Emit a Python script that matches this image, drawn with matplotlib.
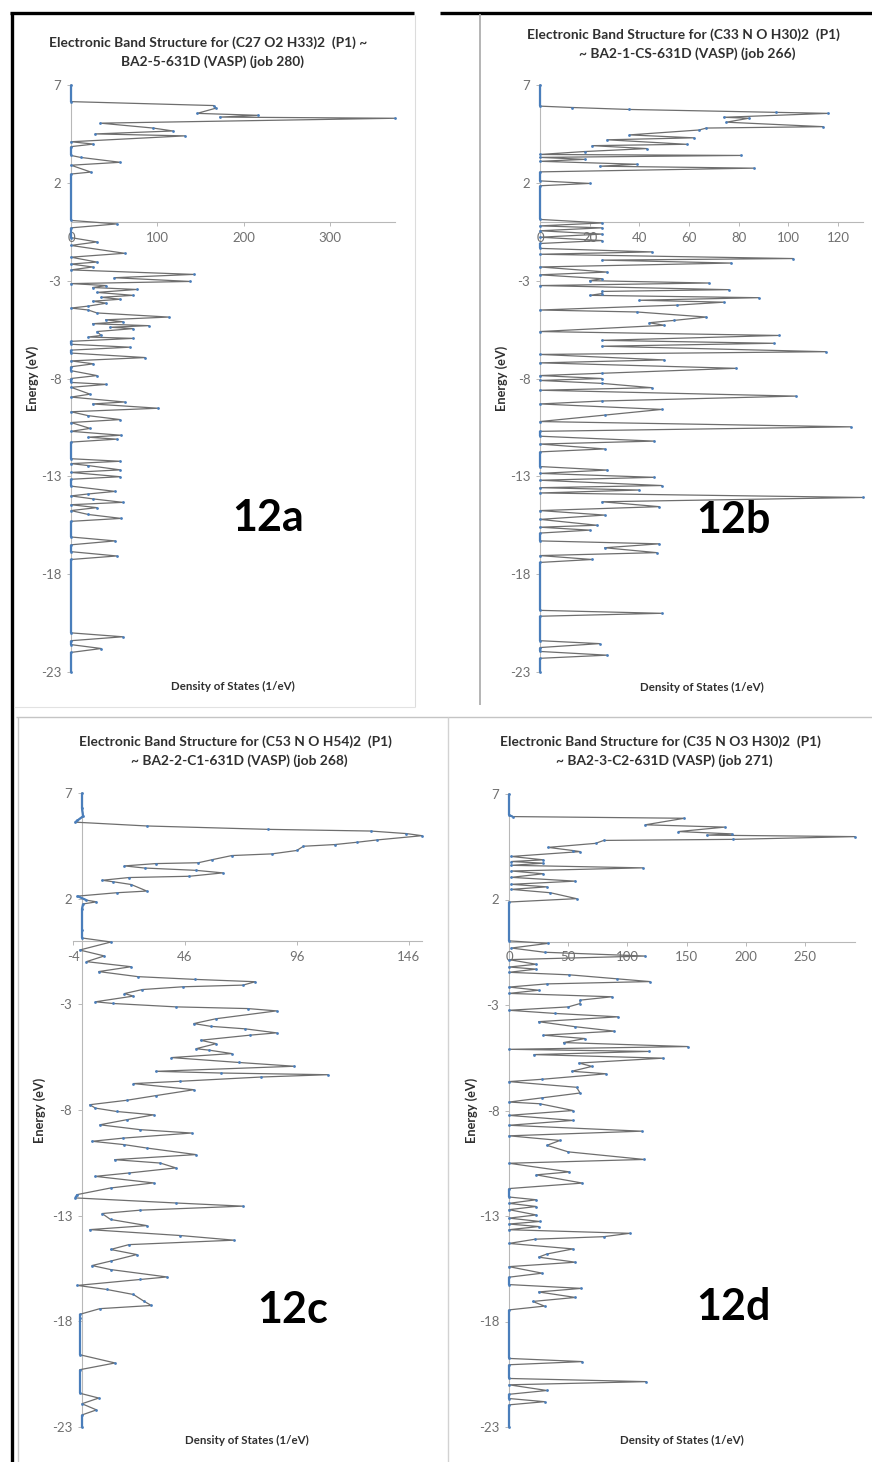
import matplotlib
matplotlib.use("Agg")
import matplotlib.pyplot as plt
from matplotlib.lines import Line2D
import numpy as np

plt.rcParams['axes.unicode_minus'] = False
plt.rcParams['font.family'] = ['Lato', 'DejaVu Sans']

W, H = 872, 1462

# (energy eV, density of states 1/eV) pairs, listed from the top of the energy window down
spectrum_a = [
    (7.0, 0), (6.15, 0), (5.95, 165), (5.82, 168), (5.55, 146), (5.45, 217), (5.36, 172),
    (5.3, 375), (5.05, 34), (4.8, 95), (4.65, 118), (4.5, 28), (4.4, 132), (4.1, 0),
    (3.98, 26), (3.85, 0), (3.4, 0), (3.3, 11), (3.05, 57), (2.9, 0), (2.55, 23), (2.45, 0),
    (0.08, 0), (-0.1, 53), (-0.3, 0), (-0.8, 0), (-1.02, 30), (-1.2, 0), (-1.6, 62), (-1.8, 0),
    (-2.05, 30), (-2.15, 0), (-2.3, 25), (-2.45, 0), (-2.68, 142), (-2.85, 50), (-3.04, 138),
    (-3.15, 0), (-3.25, 41), (-3.35, 25), (-3.45, 76), (-3.6, 30), (-3.75, 72), (-3.85, 35),
    (-3.95, 57), (-4.05, 25), (-4.15, 41), (-4.3, 20), (-4.4, 0), (-4.5, 20), (-4.65, 30),
    (-4.86, 113), (-5.0, 40), (-5.1, 60), (-5.2, 25), (-5.3, 90), (-5.38, 45), (-5.45, 72),
    (-5.6, 30), (-5.8, 35), (-5.88, 20), (-5.95, 72), (-6.1, 0), (-6.25, 0), (-6.4, 68),
    (-6.55, 0), (-6.7, 0), (-6.93, 86), (-7.1, 0), (-7.25, 26), (-7.4, 0), (-7.6, 0),
    (-7.85, 30), (-8.0, 0), (-8.2, 0), (-8.3, 41), (-8.45, 0), (-8.8, 22), (-8.95, 0),
    (-9.2, 62), (-9.3, 25), (-9.52, 101), (-9.7, 0), (-9.9, 20), (-10.1, 57), (-10.25, 0),
    (-10.55, 22), (-10.7, 0), (-10.9, 58), (-11.0, 20), (-11.1, 53), (-11.25, 0), (-12.1, 0),
    (-12.23, 57), (-12.35, 0), (-12.45, 20), (-12.67, 57), (-12.8, 0), (-13.02, 57),
    (-13.15, 0), (-13.5, 0), (-13.77, 51), (-13.9, 20), (-14.0, 0), (-14.15, 25), (-14.33, 60),
    (-14.45, 0), (-14.6, 30), (-14.75, 0), (-14.95, 20), (-15.15, 58), (-15.3, 0), (-16.1, 0),
    (-16.3, 51), (-16.5, 0), (-16.85, 0), (-17.07, 53), (-17.25, 0), (-21.0, 0), (-21.2, 60),
    (-21.4, 0), (-21.6, 0), (-21.8, 35), (-22.0, 0), (-23.0, 0),
]

spectrum_b = [
    (7.0, 0), (5.92, 0), (5.85, 13), (5.75, 36), (5.6, 95), (5.55, 116), (5.35, 74), (5.3, 84),
    (5.1, 75), (4.87, 114), (4.8, 67), (4.7, 64), (4.45, 36), (4.3, 62), (4.2, 27), (3.97, 59),
    (3.9, 21), (3.75, 43), (3.6, 18), (3.45, 0), (3.4, 81), (3.3, 0), (3.2, 18), (3.1, 0),
    (2.95, 39), (2.85, 24), (2.75, 86), (2.56, 0), (2.1, 0), (1.97, 20), (1.85, 0), (0.13, 0),
    (-0.05, 25), (-0.2, 0), (-0.3, 25), (-0.45, 0), (-0.62, 25), (-0.78, 0), (-0.95, 25),
    (-1.1, 0), (-1.35, 0), (-1.53, 45), (-1.65, 0), (-1.87, 102), (-1.95, 25), (-2.1, 77),
    (-2.3, 0), (-2.56, 27), (-2.7, 0), (-2.9, 25), (-3.0, 20), (-3.12, 68), (-3.25, 0),
    (-3.46, 76), (-3.55, 25), (-3.66, 25), (-3.75, 20), (-3.87, 88), (-4.0, 40), (-4.1, 74),
    (-4.25, 55), (-4.5, 0), (-4.6, 39), (-4.86, 67), (-5.03, 54), (-5.15, 44), (-5.28, 50),
    (-5.6, 0), (-5.8, 96), (-6.05, 25), (-6.2, 94), (-6.35, 25), (-6.63, 115), (-6.77, 0),
    (-7.05, 50), (-7.2, 0), (-7.48, 79), (-7.73, 25), (-7.85, 0), (-8.0, 25), (-8.1, 0),
    (-8.25, 25), (-8.47, 45), (-8.6, 0), (-8.9, 103), (-9.15, 25), (-9.3, 0), (-9.58, 49),
    (-9.87, 26), (-10.2, 0), (-10.47, 125), (-10.7, 0), (-10.95, 0), (-11.2, 46), (-11.35, 0),
    (-11.6, 26), (-11.75, 0), (-12.5, 0), (-12.68, 27), (-12.85, 0), (-13.05, 46), (-13.2, 0),
    (-13.47, 49), (-13.58, 0), (-13.7, 40), (-13.85, 0), (-14.08, 130), (-14.3, 25),
    (-14.55, 48), (-14.75, 0), (-14.98, 26), (-15.2, 0), (-15.5, 23), (-15.6, 0), (-15.75, 20),
    (-15.9, 0), (-16.3, 0), (-16.45, 48), (-16.65, 26), (-16.9, 47), (-17.05, 0), (-17.25, 21),
    (-17.4, 0), (-19.85, 0), (-20.0, 49), (-20.15, 0), (-21.4, 0), (-21.55, 24), (-21.75, 0),
    (-21.95, 0), (-22.14, 27), (-22.3, 0), (-23.0, 0),
]

spectrum_c = [
    (7.0, 0), (6.3, 0), (5.9, 0.5), (5.7, -2), (5.62, -3), (5.44, 29), (5.28, 83), (5.2, 129),
    (5.08, 145), (4.98, 152), (4.78, 132), (4.67, 123), (4.56, 113), (4.48, 99), (4.28, 96),
    (4.12, 85), (4.04, 67), (3.84, 58), (3.7, 52), (3.66, 33), (3.55, 19), (3.45, 28),
    (3.34, 51), (3.22, 63), (3.06, 48), (3.0, 21), (2.87, 9), (2.8, 14), (2.67, 22), (2.36, 29),
    (2.28, 15.5), (2.12, -2), (1.93, 2), (1.85, 6.5), (1.75, 0.5), (1.5, 0), (0.5, 0),
    (0.14, 0), (-0.05, 13), (-0.43, -1), (-0.71, 10), (-0.98, 2), (-1.22, 22), (-1.45, 7.5),
    (-1.69, 25), (-1.82, 50.6), (-1.93, 77.5), (-2.09, 72), (-2.17, 45), (-2.3, 27),
    (-2.49, 19), (-2.61, 23), (-2.88, 6), (-2.96, 14), (-3.12, 42), (-3.2, 74), (-3.31, 87),
    (-3.68, 60), (-3.91, 50), (-4.04, 57.5), (-4.16, 73), (-4.35, 87), (-4.46, 75), (-4.7, 53),
    (-4.86, 60), (-5.1, 51), (-5.17, 57), (-5.33, 67), (-5.52, 40), (-5.75, 70), (-5.93, 95),
    (-6.17, 33), (-6.25, 62), (-6.33, 110), (-6.44, 80), (-6.64, 44), (-6.75, 23), (-7.04, 50),
    (-7.32, 33), (-7.54, 20), (-7.75, 3.5), (-7.91, 6), (-8.07, 15.5), (-8.23, 32), (-8.46, 20),
    (-8.7, 8), (-8.93, 26), (-9.09, 49), (-9.33, 18.5), (-9.48, 4.5), (-9.64, 19), (-9.8, 29),
    (-10.11, 51), (-10.35, 14.6), (-10.51, 35), (-10.74, 42), (-10.98, 21), (-11.14, 6),
    (-11.45, 32), (-11.69, 12.8), (-12.0, -2), (-12.16, -3), (-12.4, 42), (-12.55, 72),
    (-12.74, 26), (-12.9, 9), (-13.18, 12.8), (-13.47, 29), (-13.66, 3.5), (-13.94, 44),
    (-14.16, 68), (-14.37, 21), (-14.6, 12.8), (-14.84, 24.5), (-15.15, 12.8), (-15.36, 4.5),
    (-15.55, 12.8), (-15.9, 38), (-16.02, 26), (-16.3, -2), (-16.49, 11), (-16.73, 23),
    (-17.04, 27.6), (-17.25, 31), (-17.4, 8), (-17.67, -1), (-17.83, -1), (-19.58, -1),
    (-19.97, 14.8), (-20.29, -1), (-21.4, -1), (-21.63, 7.5), (-21.9, 0), (-22.19, 6.5),
    (-22.43, 0), (-23.0, 0),
]

spectrum_d = [
    (7.0, 0), (6.0, 0), (5.93, 3), (5.85, 148), (5.54, 115), (5.43, 182), (5.22, 143),
    (5.11, 188), (5.05, 167), (4.98, 292), (4.85, 189), (4.8, 80), (4.66, 73), (4.47, 33),
    (4.32, 54), (4.27, 60), (4.04, 2), (3.88, 29), (3.8, 2), (3.72, 29), (3.62, 2), (3.5, 113),
    (3.35, 2), (3.22, 29), (3.05, 2), (2.87, 56), (2.72, 2), (2.6, 32), (2.48, 2), (2.32, 35),
    (2.04, 57), (1.88, 0), (0.04, 0), (-0.08, 33), (-0.3, 2), (-0.5, 30), (-0.68, 115),
    (-0.85, 0), (-1.07, 23), (-1.2, 0), (-1.3, 23), (-1.45, 0), (-1.57, 51), (-1.76, 91),
    (-1.89, 119), (-2.0, 32), (-2.15, 0), (-2.3, 25), (-2.45, 0), (-2.61, 87), (-2.77, 60),
    (-2.93, 60), (-3.09, 50), (-3.25, 0), (-3.4, 39), (-3.56, 92), (-3.79, 25), (-4.03, 56),
    (-4.24, 89), (-4.43, 29), (-4.59, 64), (-4.78, 46), (-4.97, 151), (-5.1, 0), (-5.2, 118),
    (-5.35, 21), (-5.52, 130), (-5.75, 59), (-5.91, 70), (-6.14, 53), (-6.26, 82), (-6.52, 28),
    (-6.63, 0), (-6.9, 57), (-7.17, 60), (-7.4, 28), (-7.6, 0), (-7.68, 26), (-8.0, 54),
    (-8.23, 0), (-8.47, 54), (-8.7, 0), (-8.98, 112), (-9.2, 0), (-9.42, 43), (-9.65, 32),
    (-9.96, 50), (-10.32, 114), (-10.5, 0), (-10.91, 51), (-11.05, 23), (-11.44, 62),
    (-11.7, 0), (-12.1, 0), (-12.23, 23), (-12.4, 0), (-12.55, 23), (-12.7, 0), (-12.95, 23),
    (-13.1, 0), (-13.26, 26), (-13.38, 0), (-13.5, 25), (-13.65, 0), (-13.82, 102),
    (-13.98, 80), (-14.1, 22), (-14.3, 0), (-14.56, 54), (-14.8, 32), (-14.95, 25),
    (-15.19, 56), (-15.4, 0), (-15.71, 28), (-15.9, 0), (-16.25, 0), (-16.43, 61), (-16.6, 25),
    (-16.86, 56), (-17.05, 20), (-17.27, 30), (-17.45, 0), (-19.75, 0), (-19.9, 62),
    (-20.05, 0), (-20.7, 0), (-20.85, 116), (-21.0, 0), (-21.27, 32), (-21.45, 0), (-21.65, 0),
    (-21.8, 30), (-21.95, 0), (-23.0, 0),
]

energy_ticks = [7, 2, -3, -8, -13, -18, -23]
dos_ticks_a = [0, 100, 200, 300]
dos_ticks_b = [0, 20, 40, 60, 80, 100, 120]
dos_ticks_c = [-4, 46, 96, 146]
dos_ticks_d = [0, 50, 100, 150, 200, 250]

titles = [
    ("Electronic Band Structure for (C27 O2 H33)2  (P1) ~", "BA2-5-631D (VASP) (job 280)"),
    ("Electronic Band Structure for (C33 N O H30)2  (P1)", "~ BA2-1-CS-631D (VASP) (job 266)"),
    ("Electronic Band Structure for (C53 N O H54)2  (P1)", "~ BA2-2-C1-631D (VASP) (job 268)"),
    ("Electronic Band Structure for (C35 N O3 H30)2  (P1)", "~ BA2-3-C2-631D (VASP) (job 271)"),
]
tags = ["12a", "12b", "12c", "12d"]

LINE = "#6e6e6e"
MARK = "#4a7ebb"
AXIS = "#b8b8b8"
TICKTXT = "#707070"
TEXT = "#303030"

fig = plt.figure(figsize=(W / 100, H / 100), dpi=100)
fig.patch.set_facecolor("white")


def fx(px):
    return px / W


def fy(py):
    return 1 - py / H


def fig_line(x0, y0, x1, y1, color, lw):
    fig.add_artist(Line2D([fx(x0), fx(x1)], [fy(y0), fy(y1)], transform=fig.transFigure,
                          color=color, lw=lw, solid_capstyle="butt"))


def draw_panel(box, spectrum, xlim, xticks, title, title_pos, ylab_pos, xlab_pos, tag, tag_pos):
    x0, y0, x1, y1 = box
    ax = fig.add_axes([fx(x0), fy(y1), (x1 - x0) / W, (y1 - y0) / H])
    e = np.array([p[0] for p in spectrum])
    d = np.array([p[1] for p in spectrum])
    ax.set_xlim(*xlim)
    ax.set_ylim(-23, 7)
    # states near zero sit on the axis as a dense run of markers
    flat = np.abs(d) < 3.5
    for i in range(len(d) - 1):
        if flat[i] and flat[i + 1]:
            ax.plot(d[i:i + 2], e[i:i + 2], color=MARK, lw=1.6, zorder=3,
                    solid_capstyle="butt", clip_on=False)
    ax.plot(d, e, color=LINE, lw=0.9, zorder=2, clip_on=False)
    ax.plot(d, e, ls="none", marker="o", ms=2.0, mfc=MARK, mec="none", zorder=4, clip_on=False)

    for s in ("top", "right"):
        ax.spines[s].set_visible(False)
    ax.spines["bottom"].set_position(("data", 0))
    ax.spines["left"].set_position(("data", 0))
    for s in ("bottom", "left"):
        ax.spines[s].set_color(AXIS)
        ax.spines[s].set_linewidth(0.8)
        ax.spines[s].set_zorder(1)
    ax.set_yticks(energy_ticks)
    ax.set_yticklabels([str(t) for t in energy_ticks])
    ax.set_xticks(xticks)
    ax.set_xticklabels([str(t) for t in xticks])
    ax.tick_params(axis="both", direction="out", length=3, width=0.7, color=AXIS,
                   labelsize=9.5, labelcolor=TICKTXT)
    ax.tick_params(axis="x", pad=4)
    ax.tick_params(axis="y", pad=4)
    ax.patch.set_alpha(0)

    tx, ty = title_pos
    fig.text(fx(tx), fy(ty), title[0], ha="center", va="center", fontsize=9.9,
             fontweight="bold", color=TEXT)
    fig.text(fx(tx + 4), fy(ty + 19), title[1], ha="center", va="center", fontsize=9.9,
             fontweight="bold", color=TEXT)
    fig.text(fx(ylab_pos[0]), fy(ylab_pos[1]), "Energy (eV)", rotation=90, ha="center",
             va="center", fontsize=9.2, fontweight="bold", color=TEXT)
    fig.text(fx(xlab_pos[0]), fy(xlab_pos[1]), "Density of States (1/eV)", ha="center",
             va="center", fontsize=8.3, fontweight="bold", color=TEXT)
    fig.text(fx(tag_pos[0]), fy(tag_pos[1]), tag, ha="center", va="center", fontsize=31,
             fontweight="bold", color="black")
    return ax


draw_panel((71, 85, 395, 672), spectrum_a, (0, 375), dos_ticks_a, titles[0], (208, 43),
           (33, 378), (233, 686), tags[0], (268, 518))
draw_panel((540, 85, 863, 672), spectrum_b, (0, 130), dos_ticks_b, titles[1], (683, 35),
           (502, 378), (702, 687), tags[1], (733, 520))
draw_panel((73, 793, 422, 1427), spectrum_c, (-4, 152), dos_ticks_c, titles[2], (235, 742),
           (40, 1110), (247, 1440), tags[2], (293, 1310))
draw_panel((509, 794, 855, 1427), spectrum_d, (0, 292), dos_ticks_d, titles[3], (660, 742),
           (472, 1110), (682, 1440), tags[3], (733, 1307))

# frame lines of the four chart boxes
fig_line(11.5, 12, 11.5, H, "black", 2.4)
fig_line(10, 13, 414, 13, "black", 2.4)
fig_line(440, 13, W, 13, "black", 2.4)
fig_line(415, 15, 415, 707, "#dcdcdc", 0.8)
fig_line(14, 707, 415, 707, "#e2e2e2", 0.8)
fig_line(480, 14, 480, 705, "#a8a8a8", 1.2)
fig_line(16, 717, W, 717, "#c4c4c4", 1.0)
fig_line(18, 717, 18, H, "#c8c8c8", 1.0)
fig_line(448, 717, 448, H, "#d2d2d2", 1.0)

fig.savefig("out.png", dpi=100, facecolor="white")
